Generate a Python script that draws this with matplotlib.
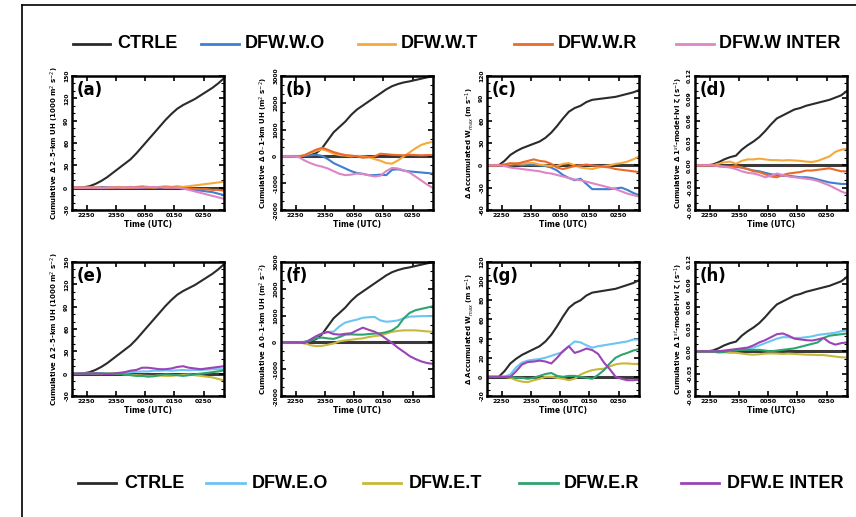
import matplotlib
matplotlib.use("Agg")
import matplotlib.pyplot as plt
from matplotlib.lines import Line2D
from matplotlib.ticker import AutoMinorLocator, FixedLocator
import numpy as np

# time in hours after 22:50 UTC
time_h = [-0.5, -0.3, -0.1, 0.1, 0.3, 0.5, 0.7, 0.9, 1.1, 1.3, 1.5, 1.7, 1.9, 2.1,
          2.3, 2.5, 2.7, 2.9, 3.1, 3.3, 3.5, 3.7, 3.9, 4.1, 4.3, 4.5, 4.7]
xtick_pos = [0, 1, 2, 3, 4]
xtick_labels = ["2250", "2350", "0050", "0150", "0250"]

# ---- 2-5 km UH (1000 m2 s-2) ----
ctrl_uh25 = [0, 0, 0.5, 2, 5, 9, 14, 20, 26, 32, 38, 46, 55, 64, 73, 82, 91, 99, 106, 111, 115, 119, 124, 129, 134, 140, 147]
wo_uh25 = [0, 0, 0, 0.5, 0, 1, 0.5, 0, 1, 0.5, 1, 0, 0.5, 1, 0, 0.5, 1, 0.5, 0, -1, -2, -3, -4, -5, -6, -8, -10]
wt_uh25 = [0, 0, 0, 0, 0.5, 0, -0.5, 0, 1, 0.5, 0, 1, 2, 1, 0, 1, 2, 1, 2, 1, 2, 3, 4, 5, 6, 7, 8]
wr_uh25 = [0, 0, 0, 0, 0, -0.5, 0, 0.5, 0, -0.5, 0, 0.5, 1, 0, 0.5, 1, 0, 0.5, 0, -0.5, -1, -1.5, -2, -2, -3, -3, -4]
wi_uh25 = [0, 0, 0, 0, 0, -0.5, 0, 0.5, 0, 0, 0.5, 0, 0, 0.5, 1, 0.5, 0, 0, 0, -1, -3, -5, -7, -9, -11, -13, -15]
eo_uh25 = [0, 0, 0, 0, 0.5, 0, 0.5, 1, 0.5, 1, 2, 2.5, 3, 3, 4, 4, 4.5, 4, 4.5, 5, 4.5, 5, 5, 5.5, 6, 6, 6]
et_uh25 = [0, 0, 0, 0, 0, -0.5, 0, 0.5, 0, -1, -1.5, -2, -2.5, -3, -3, -2.5, -3, -3, -2, -1.5, -1, -2, -3, -4, -5, -7, -9]
er_uh25 = [0, 0, 0, 0, 0, 0.5, 0, -0.5, 0, -1, -2, -3, -3, -4, -3.5, -2, -1, -1.5, -2, -3, -2, -1, 0, 1, 2, 3, 4.5]
ei_uh25 = [0, 0, 0, 0, 0.5, 0, -0.5, 0, 1, 2, 4, 5, 8, 8, 7, 6, 6, 7, 9, 10, 8, 7, 6, 7, 8, 9, 10]

# ---- 0-1 km UH (m2 s-2) ----
ctrl_uh01 = [0, 0, 0, 0, 20, 60, 120, 300, 600, 900, 1100, 1300, 1550, 1750, 1900, 2050, 2200, 2350, 2500, 2620, 2700, 2760, 2800, 2850, 2900, 2950, 2990]
wo_uh01 = [0, 0, 0, 0, 20, 40, 60, 20, -100, -250, -350, -450, -550, -620, -650, -700, -700, -680, -700, -500, -480, -530, -560, -580, -600, -620, -640]
wt_uh01 = [0, 0, 0, 0, 50, 120, 200, 270, 200, 100, 50, 30, 0, 20, 0, -20, -100, -160, -250, -270, -150, 0, 150, 300, 430, 500, 540]
wr_uh01 = [0, 0, 0, 0, 40, 150, 250, 320, 250, 160, 100, 50, 30, 0, -50, -30, 0, 100, 80, 60, 50, 40, 60, 50, 40, 50, 50]
wi_uh01 = [0, 0, 0, -20, -150, -250, -330, -380, -450, -550, -650, -700, -680, -640, -660, -700, -750, -720, -550, -430, -450, -520, -600, -750, -900, -1050, -1180]
eo_uh01 = [0, 0, 0, 0, 0, 100, 220, 330, 390, 400, 600, 740, 800, 850, 920, 940, 950, 820, 770, 790, 820, 900, 960, 970, 980, 980, 980]
et_uh01 = [0, 0, 0, 0, -30, -100, -140, -130, -90, -40, 40, 75, 100, 130, 150, 200, 235, 260, 330, 395, 430, 450, 450, 450, 430, 410, 395]
er_uh01 = [0, 0, 0, 0, 0, 60, 150, 180, 150, 130, 200, 290, 300, 290, 290, 310, 330, 340, 380, 450, 600, 900, 1100, 1200, 1250, 1300, 1350]
ei_uh01 = [0, 0, 0, 0, -30, 100, 230, 330, 390, 310, 290, 320, 340, 450, 550, 470, 400, 290, 130, -20, -200, -350, -510, -620, -710, -770, -800]

# ---- Accumulated Wmax (m s-1) ----
ctrl_w = [0, 0, 0, 6, 14, 19, 23, 26, 29, 32, 37, 44, 53, 63, 72, 77, 80, 85, 88, 89, 90, 91, 92, 94, 96, 98, 101]
wo_w = [0, 0, 0, 0, 0.5, 1, 0, 1, 0.5, 0, -1, -3, -7, -13, -17, -20, -18, -25, -32, -32, -32, -32, -31, -30, -33, -37, -40]
wt_w = [0, 0, 0, 1, 2, 3, 2, 3, 3, 1, 0, -1, -1, 2, 3, 0, -3, -4, -5, -3, -1, 0, 2, 3, 5, 8, 12]
wr_w = [0, 0, 0, 1, 3, 2, 4, 6, 8, 6, 5, 2, -3, -5, -3, -1, 0, 1, 0, -1, -2, -3, -5, -6, -7, -8, -9]
wi_w = [0, 0, 0, -1, -3, -4, -5, -6, -7, -8, -10, -11, -13, -15, -17, -19, -20, -22, -24, -26, -28, -30, -32, -35, -38, -40, -42]
eo_w = [0, 0, 0, 0, 2.5, 10, 15, 17, 18, 18.6, 20, 22, 24, 26, 32, 37, 36, 33, 30.5, 32, 33, 34, 35, 36, 37, 39, 39]
et_w = [0, 0, 0, 0, -1, -3.5, -5, -5.5, -3.5, -2, 0, 0, -1, -2, -3.5, -2, 2.4, 5, 7, 8, 8.5, 11, 13, 14, 14, 13.5, 13.6]
er_w = [0, 0, 0, 0, 0, -1, -1, -2, -1, 1, 3, 4, 1, 0, 1, 1, 0, -1, -2, 2, 7, 14, 20, 23, 25, 27.5, 29]
ei_w = [0, 0, 0, 0, 0, 6, 13, 15.5, 16, 17, 16, 14, 20, 27, 32, 25, 27, 29.6, 28, 24, 15, 8, 0, -2, -3.5, -3.5, -3]

# ---- 1st-model-level vorticity (s-1) ----
ctrl_z = [0, 0, 0, 0.001, 0.004, 0.008, 0.011, 0.013, 0.021, 0.027, 0.032, 0.038, 0.046, 0.055, 0.063, 0.067, 0.071, 0.075, 0.077, 0.080, 0.082, 0.084, 0.086, 0.088, 0.091, 0.094, 0.100]
wo_z = [0, 0, 0, 0, -0.001, -0.001, -0.002, -0.002, -0.003, -0.005, -0.007, -0.008, -0.010, -0.012, -0.013, -0.014, -0.014, -0.015, -0.016, -0.016, -0.017, -0.019, -0.021, -0.023, -0.024, -0.025, -0.025]
wt_z = [0, 0, 0, 0, 0.002, 0.004, 0.005, 0.002, 0.006, 0.008, 0.008, 0.009, 0.008, 0.007, 0.007, 0.0065, 0.007, 0.0065, 0.006, 0.005, 0.0045, 0.006, 0.009, 0.012, 0.018, 0.021, 0.022]
wr_z = [0, 0, 0, 0, -0.001, -0.002, -0.002, -0.001, -0.003, -0.005, -0.008, -0.009, -0.012, -0.015, -0.016, -0.013, -0.011, -0.010, -0.009, -0.007, -0.007, -0.006, -0.005, -0.004, -0.006, -0.008, -0.008]
wi_z = [0, 0, 0, 0, -0.001, -0.002, -0.003, -0.005, -0.008, -0.010, -0.011, -0.013, -0.016, -0.014, -0.011, -0.013, -0.015, -0.016, -0.017, -0.018, -0.019, -0.021, -0.024, -0.027, -0.031, -0.035, -0.038]
eo_z = [0, 0, 0, 0, 0, 0, 0.001, 0.002, 0.003, 0.004, 0.005, 0.008, 0.011, 0.014, 0.017, 0.019, 0.019, 0.018, 0.018, 0.019, 0.020, 0.022, 0.023, 0.024, 0.025, 0.027, 0.028]
et_z = [0, 0, 0, 0, -0.001, -0.001, -0.002, -0.002, -0.003, -0.004, -0.0045, -0.004, -0.003, -0.0027, -0.003, -0.0035, -0.003, -0.0035, -0.004, -0.0045, -0.0046, -0.005, -0.005, -0.006, -0.007, -0.008, -0.0084]
er_z = [0, 0, 0, 0, -0.0015, -0.001, 0.001, 0.001, 0.002, 0.002, 0.002, 0.002, 0.001, 0, 0.001, 0.002, 0.003, 0.004, 0.006, 0.008, 0.010, 0.012, 0.018, 0.021, 0.022, 0.023, 0.024]
ei_z = [0, 0, 0, 0, 0, 0.001, 0.002, 0.003, 0.004, 0.005, 0.008, 0.012, 0.015, 0.019, 0.023, 0.024, 0.021, 0.017, 0.016, 0.015, 0.0145, 0.016, 0.018, 0.012, 0.009, 0.011, 0.012]

west_names = ["CTRLE", "DFW.W.O", "DFW.W.T", "DFW.W.R", "DFW.W INTER"]
east_names = ["CTRLE", "DFW.E.O", "DFW.E.T", "DFW.E.R", "DFW.E INTER"]
west_colors = ["#2b2b2b", "#3f7fcf", "#f5a93a", "#ea6a2c", "#dd86c6"]
east_colors = ["#2b2b2b", "#6cc4f2", "#c8b93c", "#2fa36f", "#9b44b6"]

ylabels = [
    "Cumulative \u0394 2\u20135-km UH (1000 m$^2$ s$^{-2}$)",
    "Cumulative \u0394 0\u20131-km UH (m$^2$ s$^{-2}$)",
    "\u0394 Accumulated W$_{max}$ (m s$^{-1}$)",
    "Cumulative \u0394 1$^{st}$-model-lvl \u03b6 (s$^{-1}$)",
]

panels = [
    ("(a)", 0, 0, [ctrl_uh25, wo_uh25, wt_uh25, wr_uh25, wi_uh25], west_colors, (-30, 150), 30, "{:.0f}"),
    ("(b)", 0, 1, [ctrl_uh01, wo_uh01, wt_uh01, wr_uh01, wi_uh01], west_colors, (-2000, 3000), 1000, "{:.0f}"),
    ("(c)", 0, 2, [ctrl_w, wo_w, wt_w, wr_w, wi_w], west_colors, (-60, 120), 30, "{:.0f}"),
    ("(d)", 0, 3, [ctrl_z, wo_z, wt_z, wr_z, wi_z], west_colors, (-0.06, 0.12), 0.03, "{:.2f}"),
    ("(e)", 1, 0, [ctrl_uh25, eo_uh25, et_uh25, er_uh25, ei_uh25], east_colors, (-30, 150), 30, "{:.0f}"),
    ("(f)", 1, 1, [ctrl_uh01, eo_uh01, et_uh01, er_uh01, ei_uh01], east_colors, (-2000, 3000), 1000, "{:.0f}"),
    ("(g)", 1, 2, [ctrl_w, eo_w, et_w, er_w, ei_w], east_colors, (-20, 120), 20, "{:.0f}"),
    ("(h)", 1, 3, [ctrl_z, eo_z, et_z, er_z, ei_z], east_colors, (-0.06, 0.12), 0.03, "{:.2f}"),
]

W, H = 856, 517
fig = plt.figure(figsize=(W / 100, H / 100), dpi=100)

col_left = [72, 281, 487, 695]
ax_w = 152
row_top = [76, 262]
ax_h = 134

for lab, r, c, series, colors, ylim, ystep, fmt in panels:
    left = col_left[c] / W
    bottom = 1 - (row_top[r] + ax_h) / H
    ax = fig.add_axes([left, bottom, ax_w / W, ax_h / H])
    ax.axhline(0, color="#3a3a3a", lw=2.2, zorder=1.5)
    for s, col in zip(series, colors):
        ax.plot(time_h, s, color=col, lw=1.5, zorder=2)
    ax.set_xlim(-0.5, 4.7)
    ax.set_ylim(*ylim)
    ax.xaxis.set_major_locator(FixedLocator(xtick_pos))
    ax.set_xticklabels(xtick_labels, fontsize=4.5, fontweight="bold")
    yt = np.arange(ylim[0], ylim[1] + ystep / 2, ystep)
    ax.yaxis.set_major_locator(FixedLocator(yt))
    ax.set_yticklabels([fmt.format(0 if abs(v) < 1e-12 else v) for v in yt],
                       fontsize=4.3, fontweight="bold", rotation=90, va="center")
    ax.yaxis.set_minor_locator(AutoMinorLocator(3))
    ax.tick_params(axis="both", which="major", direction="in", length=3.5, width=1.2,
                   top=True, right=True, pad=2)
    ax.tick_params(axis="y", which="minor", direction="in", length=2, width=0.8, right=True)
    for sp in ax.spines.values():
        sp.set_linewidth(1.8)
    ax.set_xlabel("Time (UTC)", fontsize=5.5, fontweight="bold", labelpad=1.5)
    ax.set_ylabel(ylabels[c], fontsize=5, fontweight="bold", labelpad=2)
    ax.text(0.03, 0.96, lab, transform=ax.transAxes, fontsize=12, fontweight="bold",
            va="top", ha="left")

# legends drawn entry by entry (pixel positions of line start/end and text start)
top_legend_pos = [(73, 110, 117), (201, 239, 245), (358, 395, 401), (514, 552, 558), (676, 714, 719)]
bot_legend_pos = [(78, 116, 124), (206, 245, 252), (363, 401, 409), (519, 558, 564), (681, 719, 727)]
for names, colors, ypix, pos in [(west_names, west_colors, 44, top_legend_pos),
                                 (east_names, east_colors, 483, bot_legend_pos)]:
    yf = 1 - ypix / H
    for name, col, (x1, x2, xt) in zip(names, colors, pos):
        fig.add_artist(Line2D([x1 / W, x2 / W], [yf, yf], color=col, lw=2.0))
        fig.text(xt / W, yf, name, fontsize=13, fontweight="bold", va="center", ha="left",
                 family=["Liberation Sans", "DejaVu Sans"])

# frame lines at left and top
fig.add_artist(Line2D([22 / W, 22 / W], [0, 1 - 5 / H], color="black", lw=1.2))
fig.add_artist(Line2D([22 / W, 1], [1 - 5 / H, 1 - 5 / H], color="black", lw=1.2))

fig.savefig("out.png", dpi=100)
